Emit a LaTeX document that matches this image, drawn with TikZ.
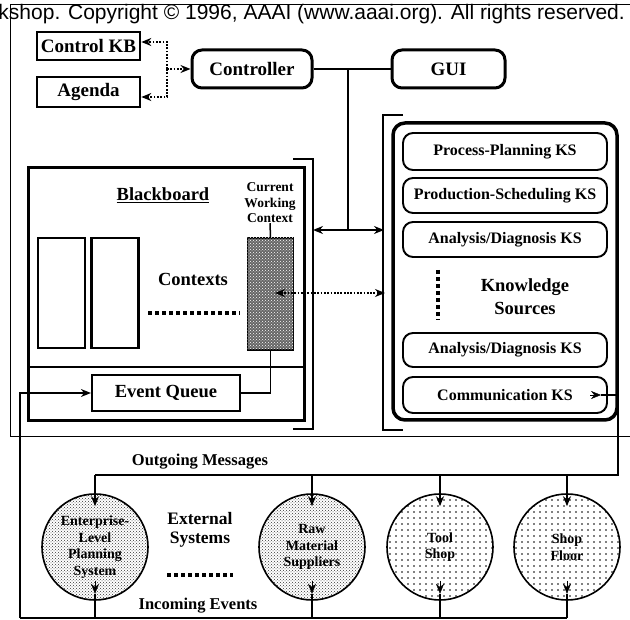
\documentclass[tikz,border=0pt]{standalone}
\usepackage{fontspec}
\setmainfont{Liberation Serif}
\newfontfamily\sansf{Liberation Sans}
\usetikzlibrary{arrows.meta,patterns,calc}
\pgfdeclarepatternformonly{sparsedots}{\pgfqpoint{-1pt}{-1pt}}{\pgfqpoint{6pt}{6pt}}{\pgfqpoint{6pt}{6pt}}{\pgfpathcircle{\pgfqpoint{0pt}{0pt}}{0.8pt}\pgfusepath{fill}}
\begin{document}
\begin{tikzpicture}[x=1pt,y=-1pt,
  lbl/.style={font=\bfseries\fontsize{18.5}{20}\selectfont, inner sep=0, align=center},
  sqbox/.style={draw, line width=2.6pt, inner sep=0, font=\bfseries\fontsize{19}{19}\selectfont},
  rbox/.style={draw, line width=3pt, rounded corners=10pt, inner sep=0, font=\bfseries\fontsize{19}{19}\selectfont},
  ksitem/.style={draw, line width=1.9pt, rounded corners=10pt, minimum width=204pt, inner sep=0, font=\bfseries\fontsize{16}{16}\selectfont},
  ctx/.style={draw, line width=2.2pt, minimum width=47pt, minimum height=110pt, inner sep=0},
  ext/.style={circle, draw, line width=1.6pt, minimum size=106pt, inner sep=0, align=center, font=\bfseries\fontsize{14}{16.5}\selectfont},
  conn/.style={line width=1.5pt},
  thin/.style={line width=1pt},
  dotconn/.style={line width=1.8pt, dash pattern=on 1.8pt off 1.5pt},
  thickdots/.style={line width=4pt, dash pattern=on 4pt off 3pt},
  arr/.style={-{Stealth[length=10pt,width=8pt]}},
  arrb/.style={{Stealth[length=10pt,width=8pt]}-{Stealth[length=10pt,width=8pt]}}
]
\useasboundingbox (0,0) rectangle (630,620);

% copyright line
\node[anchor=base east, inner sep=0, font=\sansf\fontsize{21}{21}\selectfont] (copy) at (625,20) {kshop. Copyright © 1996, AAAI (www.aaai.org). All rights reserved.};

% outer frame
\draw[thin] (630,5) -- (10,5) -- (10,437) -- (630,437);

% top: control KB, agenda, controller, GUI
\node[sqbox, minimum width=103pt, minimum height=28pt] (ckb) at (88.5,46) {Control KB};
\node[sqbox, minimum width=103pt, minimum height=30pt] (agenda) at (88.5,92) {Agenda};
\node[rbox, minimum width=120pt, minimum height=38pt] (ctrl) at (252,69) {Controller};
\node[rbox, minimum width=113pt, minimum height=38pt] (gui) at (448.5,69) {GUI};

\coordinate (cj) at (167,69);
\coordinate (cjt) at (167,42);
\coordinate (cjb) at (167,97);
\draw[dotconn, arr] (cj) -- (ctrl.west);
\draw[dotconn, arr] (cj) -- (cjt) -- ($(ckb.east)+(0,-4)$);
\draw[dotconn, arr] (cj) -- (cjb) -- ($(agenda.east)+(0,5)$);

\draw[conn] (ctrl.east) -- (gui.west);
\coordinate (j1) at (348,69);
\coordinate (j2) at (348,230);
\coordinate (bbR) at (313,230);
\coordinate (ksL) at (384,230);
\draw[conn] (j1) -- (j2);
\draw[conn, arrb] (bbR) -- (ksL);

% blackboard
\node[draw, line width=3pt, minimum width=276pt, minimum height=253pt, inner sep=0] (bb) at (166,294.5) {};
\coordinate (sepL) at (28,367);
\coordinate (sepR) at (304,367);
\draw[conn] (sepL) -- (sepR);
\draw[conn] (293,159) -- (313,159) -- (313,429) -- (293,429);

\node[lbl] (bbl) at (163,195) {\underline{Blackboard}};
\node[font=\bfseries\fontsize{13.5}{15.5}\selectfont, align=center, inner sep=0] (cwcl) at (270,203) {Current\\Working\\Context};
\node[draw, line width=1.8pt, minimum width=46pt, minimum height=112pt, inner sep=0, fill=black!60, postaction={pattern=crosshatch dots, pattern color=white}] (cwc) at (270.5,294) {};
\draw[conn] (cwcl.south) -- (cwc.north);

\node[ctx] (c1) at (61.5,293) {};
\node[ctx] (c2) at (115,293) {};
\node[lbl] (ctxl) at (193,279) {Contexts};
\coordinate (d1) at (148,313);
\coordinate (d2) at (240,313);
\draw[thickdots] (d1) -- (d2);

\node[draw, line width=2.2pt, minimum width=148pt, minimum height=36pt, lbl] (eq) at (166,393) {Event Queue};
\draw[conn] (eq.east) -| (cwc.south);

% knowledge sources
\node[draw, line width=3.5pt, rounded corners=12pt, minimum width=224pt, minimum height=297pt, inner sep=0] (ksb) at (505,271.5) {};
\draw[conn] (403,115) -- (383,115) -- (383,430) -- (403,430);
\node[ksitem, minimum height=37pt] (pp) at (505,151.5) {Process-Planning KS};
\node[ksitem, minimum height=35pt] (ps) at (505,195.5) {Production-Scheduling KS};
\node[ksitem, minimum height=35pt] (ad1) at (505,239.5) {Analysis/Diagnosis KS};
\node[ksitem, minimum height=34pt] (ad2) at (505,350) {Analysis/Diagnosis KS};
\node[ksitem, minimum height=36pt] (comm) at (505,395) {Communication KS};
\coordinate (k1) at (438,270);
\coordinate (k2) at (438,320);
\draw[thickdots] (k1) -- (k2);
\node[font=\bfseries\fontsize{18.5}{23}\selectfont, align=center, inner sep=0] (ksl) at (525,297) {Knowledge\\Sources};

% current working context <-> KS
\coordinate (cwcin) at (275,293);
\coordinate (ksin) at (385,293);
\draw[dotconn, arrb] (cwcin) -- (ksin);

% communication KS output
\coordinate (ct0) at (590,395);
\coordinate (ct1) at (601,395);
\coordinate (ct2) at (618,395);
\coordinate (ob2) at (618,475);
\coordinate (ob1) at (95,475);
\draw[arr] (ct0) -- (ct1);
\draw[conn] (ct1) -- (ct2) -- (ob2) -- (ob1);

% external systems
\node[ext, pattern=crosshatch dots, pattern color=black!80] (ent) at (95,547) {Enterprise-\\Level\\Planning\\System};
\node[ext, pattern=crosshatch dots, pattern color=black!80] (raw) at (312,547) {Raw\\Material\\Suppliers};
\node[ext, pattern=sparsedots] (tool) at (440,547) {Tool\\Shop};
\node[ext, pattern=sparsedots] (shop) at (567,547) {Shop\\Floor};

\coordinate (ib0) at (20,618);
\foreach \c in {ent,raw,tool,shop}{
  \draw[conn, arr] (\c |- ob1) -- ($(\c.north)+(0,13)$);
  \draw[arr] ($(\c.south)+(0,-20)$) -- ($(\c.south)+(0,-7)$);
  \draw[conn] ($(\c.south)+(0,-7)$) -- (\c |- ib0);
}
\draw[conn] (ib0) -- (shop |- ib0);
\draw[conn, arr] (ib0) |- (eq.west);

\node[font=\bfseries\fontsize{16.5}{16.5}\selectfont, inner sep=0] (outl) at (200,462) {Outgoing Messages};
\node[font=\bfseries\fontsize{17.5}{19}\selectfont, align=center, inner sep=0] (extl) at (200,530) {External\\Systems};
\coordinate (e1) at (167,575);
\coordinate (e2) at (233,575);
\draw[thickdots] (e1) -- (e2);
\node[font=\bfseries\fontsize{16.5}{16.5}\selectfont, inner sep=0] (inl) at (198,606) {Incoming Events};
\end{tikzpicture}
\end{document}
